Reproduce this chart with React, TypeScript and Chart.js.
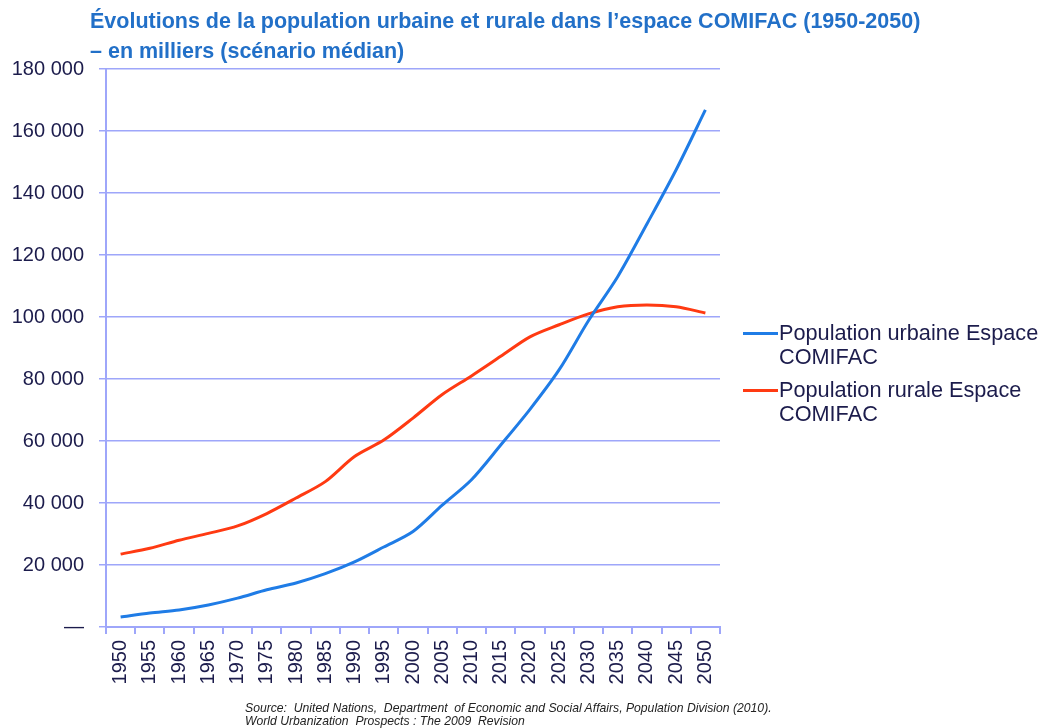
import React, { useEffect, useRef } from "react";
import { Chart, registerables } from "chart.js";

Chart.register(...registerables);

const years = ["1950","1955","1960","1965","1970","1975","1980","1985","1990","1995","2000","2005","2010","2015","2020","2025","2030","2035","2040","2045","2050"];
const urbanPop = [3200, 4500, 5500, 7100, 9300, 12000, 14200, 17200, 21000, 25800, 30800, 39300, 47500, 58700, 70200, 83000, 98800, 113000, 130000, 147500, 166800];
const ruralPop = [23500, 25400, 28000, 30200, 32600, 36600, 41600, 46900, 55000, 60300, 67400, 75000, 81000, 87300, 93600, 97500, 101000, 103300, 103900, 103300, 101300];
const urbanLabel = ["Population urbaine Espace", "COMIFAC"];
const ruralLabel = ["Population rurale Espace", "COMIFAC"];
const titleLines = ["Évolutions de la population urbaine et rurale dans l’espace COMIFAC (1950-2050)", "– en milliers (scénario médian)"];
const sourceLines = ["Source:  United Nations,  Department  of Economic and Social Affairs, Population Division (2010).", "World Urbanization  Prospects : The 2009  Revision"];

const BLUE = "#1f7ce6";
const RED = "#ff3a12";
const GRID = "#9ea6fa";
const TEXT = "#1c1c4c";
const FONT = "'Liberation Sans', Arial, sans-serif";

function fmt(v: number): string {
  if (v === 0) return "—";
  return String(v).replace(/\B(?=(\d{3})+(?!\d))/g, " ");
}

export default function App() {
  const ref = useRef<HTMLCanvasElement | null>(null);

  useEffect(() => {
    if (!ref.current) return;
    const chart = new Chart(ref.current, {
      type: "line",
      data: {
        labels: years,
        datasets: [
          { label: urbanLabel.join(" "), data: urbanPop, borderColor: BLUE, backgroundColor: BLUE, borderWidth: 3, pointRadius: 0, tension: 0.3 },
          { label: ruralLabel.join(" "), data: ruralPop, borderColor: RED, backgroundColor: RED, borderWidth: 3, pointRadius: 0, tension: 0.3 },
        ],
      },
      options: {
        responsive: false,
        animation: false,
        layout: { padding: { left: 0, right: 323, top: 69, bottom: 0 } },
        plugins: { legend: { display: false }, title: { display: false }, tooltip: { enabled: false } },
        scales: {
          x: {
            type: "category",
            offset: true,
            afterFit: (s: any) => { s.height = 101; },
            border: { display: true, color: GRID, width: 2 },
            grid: { offset: true, drawOnChartArea: false, drawTicks: true, tickLength: 7, color: GRID, lineWidth: 2 },
            ticks: { minRotation: 90, maxRotation: 90, autoSkip: false, padding: 6, color: TEXT, font: { family: FONT, size: 20 } },
          },
          y: {
            min: 0,
            max: 180000,
            afterFit: (s: any) => { s.width = 106; },
            border: { display: true, color: GRID, width: 2 },
            grid: { color: GRID, lineWidth: 1.5, tickLength: 7, drawTicks: true },
            ticks: { stepSize: 20000, padding: 15, color: TEXT, font: { family: FONT, size: 20 }, callback: (v: any) => fmt(Number(v)) },
          },
        },
      },
    });
    return () => chart.destroy();
  }, []);

  const legendItem = (color: string, lines: string[], top: number) => (
    <div style={{ position: "absolute", left: 743, top, display: "flex", alignItems: "flex-start" }}>
      <div style={{ width: 35, height: 3, background: color, marginTop: 11 }} />
      <div style={{ fontFamily: FONT, fontSize: 21.7, lineHeight: "24px", color: TEXT, whiteSpace: "nowrap", marginLeft: 1 }}>
        {lines.map((l, i) => <div key={i}>{l}</div>)}
      </div>
    </div>
  );

  return (
    <div style={{ position: "absolute", left: 0, top: 0, width: 1043, height: 728, background: "#fff", overflow: "hidden" }}>
      <canvas ref={ref} width={1043} height={728} style={{ position: "absolute", left: 0, top: 0, width: 1043, height: 728 }} />
      <div style={{ position: "absolute", left: 90, top: 6, fontFamily: FONT, fontWeight: "bold", fontSize: 21.5, lineHeight: "30px", color: "#2270c8", whiteSpace: "nowrap" }}>
        {titleLines.map((l, i) => <div key={i}>{l}</div>)}
      </div>
      {legendItem(BLUE, urbanLabel, 321)}
      {legendItem(RED, ruralLabel, 378)}
      <div style={{ position: "absolute", left: 245, top: 702, fontFamily: FONT, fontStyle: "italic", fontSize: 12.2, lineHeight: "13px", color: "#222", whiteSpace: "pre" }}>
        {sourceLines.map((l, i) => <div key={i}>{l}</div>)}
      </div>
    </div>
  );
}
